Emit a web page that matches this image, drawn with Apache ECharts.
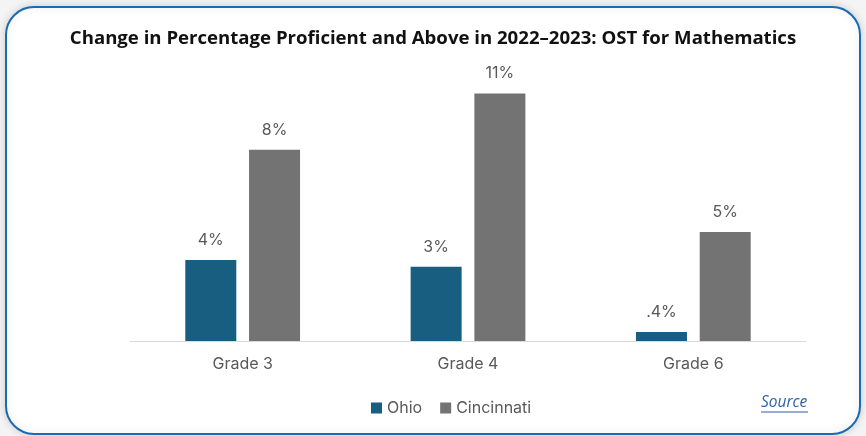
<!DOCTYPE html>
<html><head><meta charset="utf-8">
<script src="https://cdn.jsdelivr.net/npm/echarts@6/dist/echarts.min.js"></script>
<style>html,body{margin:0;padding:0;background:#fff;}#c{width:866px;height:436px;}</style>
</head><body><div id="c"></div>
<script>
const categories = ['Grade 3', 'Grade 4', 'Grade 6'];
const ohioValues = [3.6, 3.3, 0.4];
const ohioLabels = ['4%', '3%', '.4%'];
const cincinnatiValues = [8.5, 11.0, 4.85];
const cincinnatiLabels = ['8%', '11%', '5%'];
const titleText = 'Change in Percentage Proficient and Above in 2022\u20132023: OST for Mathematics';

const chart = echarts.init(document.getElementById('c'), null, {renderer: 'canvas'});
const labelFont = 'Inter, "Liberation Sans", sans-serif';
chart.setOption({
  animation: false,
  backgroundColor: '#f4f4f4',
  title: {
    text: titleText, left: 'center', top: 24,
    textStyle: {fontFamily: '"Open Sans", sans-serif', fontWeight: 'bold', fontSize: 18.6, color: '#111'}
  },
  legend: {
    data: ['Ohio', 'Cincinnati'], left: 366, top: 395, itemWidth: 11, itemHeight: 11, itemGap: 18,
    icon: 'rect',
    textStyle: {fontFamily: labelFont, fontSize: 16, color: '#595959'}
  },
  grid: {left: 130, right: 60, top: 71, bottom: 95, containLabel: false},
  xAxis: {
    type: 'category', data: categories,
    axisLine: {lineStyle: {color: '#d9d9d9', width: 1}}, axisTick: {show: false},
    axisLabel: {fontFamily: labelFont, fontSize: 16, color: '#595959', margin: 15}
  },
  yAxis: {type: 'value', min: 0, max: 12, show: false, splitLine: {show: false}},
  series: [
    {name: 'Ohio', type: 'bar', data: ohioValues, barWidth: 51, barGap: '25%', itemStyle: {color: '#175e80'},
     label: {show: true, position: 'top', distance: 12, fontFamily: labelFont, fontSize: 16, color: '#595959',
       formatter: p => ohioLabels[p.dataIndex]}},
    {name: 'Cincinnati', type: 'bar', data: cincinnatiValues, barWidth: 51, itemStyle: {color: '#737373'},
     label: {show: true, position: 'top', distance: 12, fontFamily: labelFont, fontSize: 16, color: '#595959',
       formatter: p => cincinnatiLabels[p.dataIndex]}}
  ],
  graphic: [
    {type: 'rect', z: -10, silent: true, shape: {x: 6, y: 7, width: 854, height: 427, r: 28},
     style: {fill: '#fff', stroke: '#1a6ab4', lineWidth: 2, shadowBlur: 8, shadowColor: 'rgba(0,0,0,0.15)'}},
    {type: 'text', left: 761, top: 395, style: {text: 'Source', fontFamily: '"Open Sans", sans-serif', fontStyle: 'italic', fontSize: 15.5, fill: '#2f5fa6'}},
    {type: 'line', shape: {x1: 761, y1: 412, x2: 808, y2: 412}, style: {stroke: '#2f5fa6', lineWidth: 1}}
  ]
});
</script></body></html>
